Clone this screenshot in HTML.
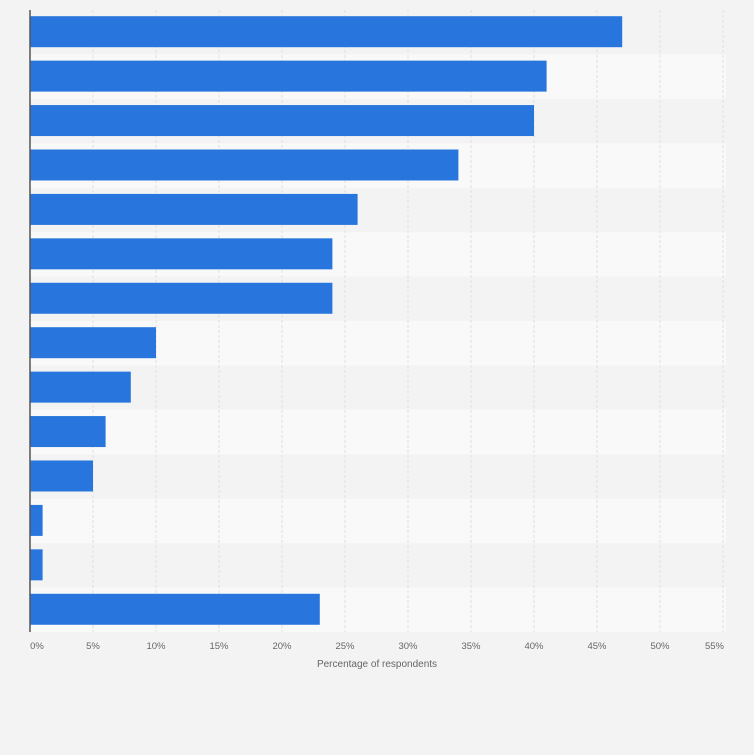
<!DOCTYPE html>
<html><head><style>
body{margin:0;background:#f3f3f3;width:754px;height:750px;overflow:hidden;font-family:"Liberation Sans",sans-serif}
</style></head><body>
<svg width="754" height="750" xmlns="http://www.w3.org/2000/svg">
<rect width="754" height="750" fill="#f3f3f3"/>
<g id="bands"></g>
<g id="grid"></g>
<g id="bars"></g>
<line x1="30" y1="10" x2="30" y2="632" stroke="#555" stroke-width="1.5"/>
<g font-size="9.5" fill="#666" text-anchor="middle" id="ticks"></g>
<text x="377" y="667" font-size="10" fill="#666" text-anchor="middle">Percentage of respondents</text>
</svg>
<script>
const ns="http://www.w3.org/2000/svg";
const vals=[47,41,40,34,26,24,24,10,8,6,5,1,1,23];
const rh=622/14;
function el(p,t,a,txt){const e=document.createElementNS(ns,t);for(const k in a)e.setAttribute(k,a[k]);if(txt)e.textContent=txt;document.getElementById(p).appendChild(e);return e;}
vals.forEach((v,i)=>{
 const y=10+i*rh;
 if(i%2==1) el("bands","rect",{x:30,y:y,width:696,height:rh,fill:"#f9f9f9"});
 el("bars","rect",{x:30,y:y+6.2,width:v*12.6,height:31,fill:"#2876dd"});
});
for(let k=0;k<=11;k++){
 const x=30+k*63;
 if(k>0) el("grid","line",{x1:x,y1:10,x2:x,y2:632,stroke:"#e0e0e0","stroke-dasharray":"3,2"});
 const a={x:x+(k==0?7:0),y:649};
 if(k==11){a["text-anchor"]="end";a.x=x+1;}
 el("ticks","text",a,(k*5)+"%");
}
</script>
</body></html>
